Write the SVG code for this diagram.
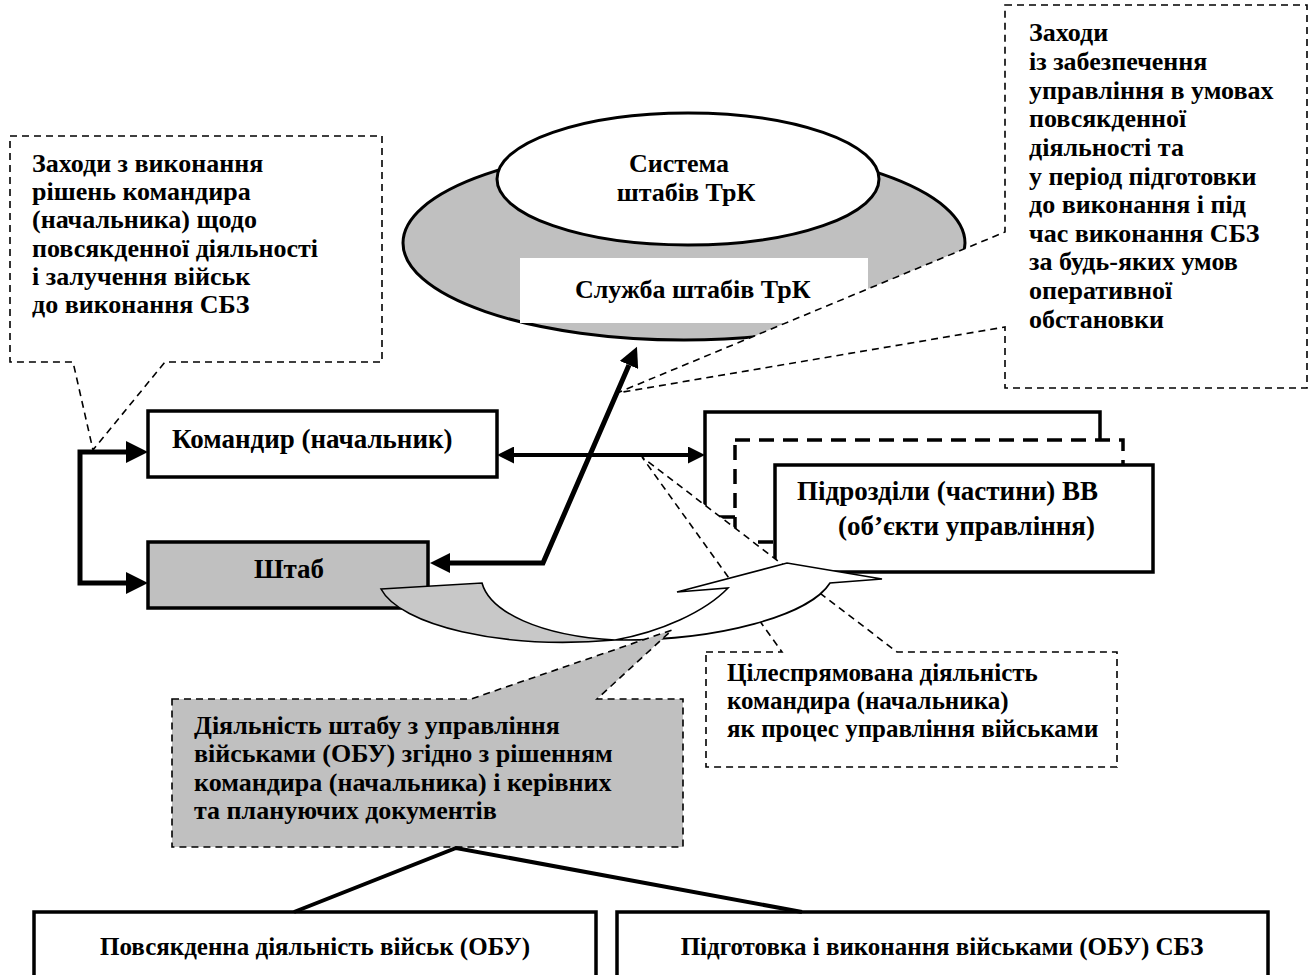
<svg xmlns="http://www.w3.org/2000/svg" width="1309" height="975" viewBox="0 0 1309 975">
<style>
text{font-family:"Liberation Serif","Times New Roman",serif;font-weight:bold;fill:#000}
.t26{font-size:26px}
.t25{font-size:25px}
.t27{font-size:27px}
.c{text-anchor:middle}
.box{fill:#fff;stroke:#000;stroke-width:3.5}
.callout{fill:#fff;stroke:#000;stroke-width:1.6;stroke-dasharray:7 5}
.thin{stroke:#000;stroke-width:1.6}
.conn{fill:none;stroke:#000}
</style>
<defs>
<marker id="aL" viewBox="0 0 10 10" refX="0" refY="5" markerWidth="22" markerHeight="22" markerUnits="userSpaceOnUse" orient="auto-start-reverse"><path d="M0,0L10,5L0,10Z" fill="#000"/></marker>
<marker id="aS" viewBox="0 0 10 10" refX="0" refY="5" markerWidth="17" markerHeight="17" markerUnits="userSpaceOnUse" orient="auto-start-reverse"><path d="M0,0L10,5L0,10Z" fill="#000"/></marker>
<marker id="aM" viewBox="0 0 10 10" refX="0" refY="5" markerWidth="20" markerHeight="20" markerUnits="userSpaceOnUse" orient="auto-start-reverse"><path d="M0,0L10,5L0,10Z" fill="#000"/></marker>
</defs>
<rect width="1309" height="975" fill="#fff"/>

<g id="system-staffs">
<ellipse cx="684" cy="243" rx="281" ry="97" fill="#c0c0c0" stroke="#000" stroke-width="3"/>
<ellipse cx="688" cy="179" rx="191" ry="66" fill="#fff" stroke="#000" stroke-width="3"/>
<text class="t26 c" x="679" y="172">Система</text>
<text class="t26 c" x="686" y="201">штабів ТрК</text>
</g>
<g id="staff-service">
<rect x="520" y="258" width="348" height="65" fill="#fff"/>
<text class="t26" x="575" y="298">Служба штабів ТрК</text>
</g>

<g id="callout-right">
<path class="callout" d="M1005,5H1307V388H1005V327L617,393L1005,232Z"/>
<text class="t26" x="1029" y="41">Заходи</text>
<text class="t26" x="1029" y="70">із забезпечення</text>
<text class="t26" x="1029" y="99">управління в умовах</text>
<text class="t26" x="1029" y="127">повсякденної</text>
<text class="t26" x="1029" y="156">діяльності та</text>
<text class="t26" x="1029" y="185">у період підготовки</text>
<text class="t26" x="1029" y="213">до виконання і під</text>
<text class="t26" x="1029" y="242">час виконання СБЗ</text>
<text class="t26" x="1029" y="270">за будь-яких умов</text>
<text class="t26" x="1029" y="299">оперативної</text>
<text class="t26" x="1029" y="328">обстановки</text>
</g>

<g id="subunits">
<rect class="box" x="705" y="412" width="395" height="105"/>
<rect class="box" x="735" y="440" width="388" height="102" stroke-dasharray="15 9"/>
<rect class="box" x="775" y="465" width="378" height="107"/>
<text class="t27" x="797" y="500">Підрозділи (частини) ВВ</text>
<text class="t27" x="838" y="535">(об’єкти управління)</text>
</g>

<g id="commander">
<rect class="box" x="148" y="411" width="349" height="66"/>
<text class="t27" x="172" y="448">Командир (начальник)</text>
</g>

<g id="staff">
<rect class="box" x="148" y="542" width="280" height="66" style="fill:#c0c0c0"/>
<text class="t27 c" x="289" y="578">Штаб</text>
</g>

<g id="callout-purposeful">
<path class="callout" d="M706,652H782L642,457L897,652H1117V767H706Z"/>
<text class="t25" x="727" y="681">Цілеспрямована діяльність</text>
<text class="t25" x="727" y="709">командира (начальника)</text>
<text class="t25" x="727" y="737">як процес управління військами</text>
</g>

<g id="curved-arrow">
<path class="thin" fill="#c8c8c8" d="M381,589L482,583C490,612 540,636 615,640C500,650 400,625 381,589Z"/>
<path class="thin" fill="#fff" d="M615,640C660,632 705,612 728,588L677,592L787,563L882,579L830,583C810,615 720,641 615,640Z"/>
</g>

<g id="callout-staff-activity">
<path class="callout" style="fill:#c0c0c0" d="M172,699H471L672,630L597,699H683V847H172Z"/>
<text class="t26" x="194" y="734">Діяльність штабу з управління</text>
<text class="t26" x="194" y="762">військами (ОБУ) згідно з рішенням</text>
<text class="t26" x="194" y="791">командира (начальника) і керівних</text>
<text class="t26" x="194" y="819">та плануючих документів</text>
</g>

<g id="callout-left">
<path class="callout" d="M10,136H382V362H165L93,450L73,362H10Z"/>
<text class="t26" x="32" y="172">Заходи з виконання</text>
<text class="t26" x="32" y="200">рішень командира</text>
<text class="t26" x="32" y="228">(начальника) щодо</text>
<text class="t26" x="32" y="257">повсякденної діяльності</text>
<text class="t26" x="32" y="285">і залучення військ</text>
<text class="t26" x="32" y="313">до виконання СБЗ</text>
</g>

<g id="daily-activity">
<rect class="box" x="34" y="912" width="562" height="80"/>
<text class="t25 c" x="315" y="955">Повсякденна діяльність військ (ОБУ)</text>
</g>
<g id="combat-tasks">
<rect class="box" x="617" y="912" width="651" height="80"/>
<text class="t25 c" x="942" y="955">Підготовка і виконання військами (ОБУ) СБЗ</text>
</g>

<g id="connectors" class="conn">
<path d="M126,452H80V583H126" stroke-width="5" marker-start="url(#aL)" marker-end="url(#aL)"/>
<path d="M514,455H688" stroke-width="4" marker-start="url(#aS)" marker-end="url(#aS)"/>
<path d="M629,365L543,563H450" stroke-width="5" stroke-linejoin="miter" marker-start="url(#aM)" marker-end="url(#aM)"/>
<path d="M294,912L456,848L802,912" stroke-width="4"/>
</g>
</svg>
